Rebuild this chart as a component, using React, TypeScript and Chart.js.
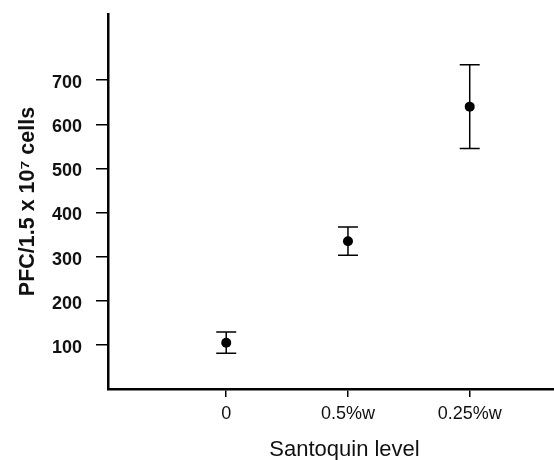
import React, { useEffect, useRef } from "react";
import { Chart, registerables } from "chart.js";

Chart.register(...registerables);

const categories = ["0", "0.5%w", "0.25%w"];
const means = [105, 335, 640];
const errors = [24, 32, 95];
const yTicks = [100, 200, 300, 400, 500, 600, 700];
const yTitle = "PFC/1.5 x 10\u2077 cells";
const xTitle = "Santoquin level";

const FONT = "'Liberation Sans', Arial, Helvetica, sans-serif";

const errorBarPlugin = {
  id: "errorBars",
  afterDatasetsDraw(chart: any) {
    const xs = chart.scales.x;
    const ys = chart.scales.y;
    const ctx = chart.ctx;
    ctx.save();
    ctx.strokeStyle = "#000";
    ctx.lineWidth = 1.5;
    for (let i = 0; i < means.length; i++) {
      const x = xs.getPixelForValue(i);
      const yTop = ys.getPixelForValue(means[i] + errors[i]);
      const yBot = ys.getPixelForValue(means[i] - errors[i]);
      const cap = 10;
      ctx.beginPath();
      ctx.moveTo(x, yTop);
      ctx.lineTo(x, yBot);
      ctx.moveTo(x - cap, yTop);
      ctx.lineTo(x + cap, yTop);
      ctx.moveTo(x - cap, yBot);
      ctx.lineTo(x + cap, yBot);
      ctx.stroke();
    }
    ctx.restore();
  },
};

export default function App() {
  const ref = useRef<HTMLCanvasElement | null>(null);

  useEffect(() => {
    if (!ref.current) return;
    const chart = new Chart(ref.current, {
      type: "scatter",
      data: {
        datasets: [
          {
            data: categories.map((_, i) => ({ x: i, y: means[i] })),
            backgroundColor: "#000",
            borderColor: "#000",
            borderWidth: 0,
            pointRadius: 5,
            showLine: false,
          },
        ],
      },
      plugins: [errorBarPlugin],
      options: {
        responsive: false,
        animation: false,
        devicePixelRatio: 1,
        layout: { padding: { top: 14, right: 0, bottom: 0, left: 0 } },
        plugins: {
          legend: { display: false },
          tooltip: { enabled: false },
        },
        scales: {
          x: {
            type: "linear",
            min: -0.971,
            max: 2.914,
            afterBuildTicks: (scale: any) => {
              scale.ticks = categories.map((_, i) => ({ value: i }));
            },
            afterFit: (scale: any) => {
              scale.height = 71;
              scale.paddingLeft = 0;
              scale.paddingRight = 0;
            },
            grid: {
              drawOnChartArea: false,
              drawTicks: true,
              tickLength: 8,
              color: "#000",
              lineWidth: 1.5,
            },
            border: { display: true, color: "#000", width: 2.5 },
            ticks: {
              color: "#111",
              padding: 6,
              maxRotation: 0,
              autoSkip: false,
              font: { family: FONT, size: 18 },
              callback: (v: any) => categories[v] ?? "",
            },
            title: {
              display: true,
              text: xTitle,
              color: "#111",
              font: { family: FONT, size: 22 },
              padding: { top: 0, bottom: -3 },
            },
          },
          y: {
            type: "linear",
            min: 0,
            max: 850,
            afterBuildTicks: (scale: any) => {
              scale.ticks = yTicks.map((v) => ({ value: v }));
            },
            afterFit: (scale: any) => {
              scale.width = 108;
              scale.paddingTop = 0;
              scale.paddingBottom = 0;
            },
            grid: {
              drawOnChartArea: false,
              drawTicks: true,
              tickLength: 12,
              color: "#000",
              lineWidth: 1.5,
            },
            border: { display: true, color: "#000", width: 2.5 },
            ticks: {
              color: "#111",
              padding: 14,
              labelOffset: 3,
              font: { family: FONT, size: 18, weight: "bold" },
            },
            title: {
              display: true,
              text: yTitle,
              color: "#111",
              font: { family: FONT, size: 21.5, weight: "bold" },
              padding: { top: 15, bottom: 0 },
            },
          },
        },
      },
    } as any);
    return () => chart.destroy();
  }, []);

  return (
    <div style={{ position: "absolute", left: 0, top: 0, width: 554, height: 460, overflow: "hidden", background: "#fff" }}>
      <canvas ref={ref} width={586} height={460} style={{ display: "block" }} />
    </div>
  );
}
